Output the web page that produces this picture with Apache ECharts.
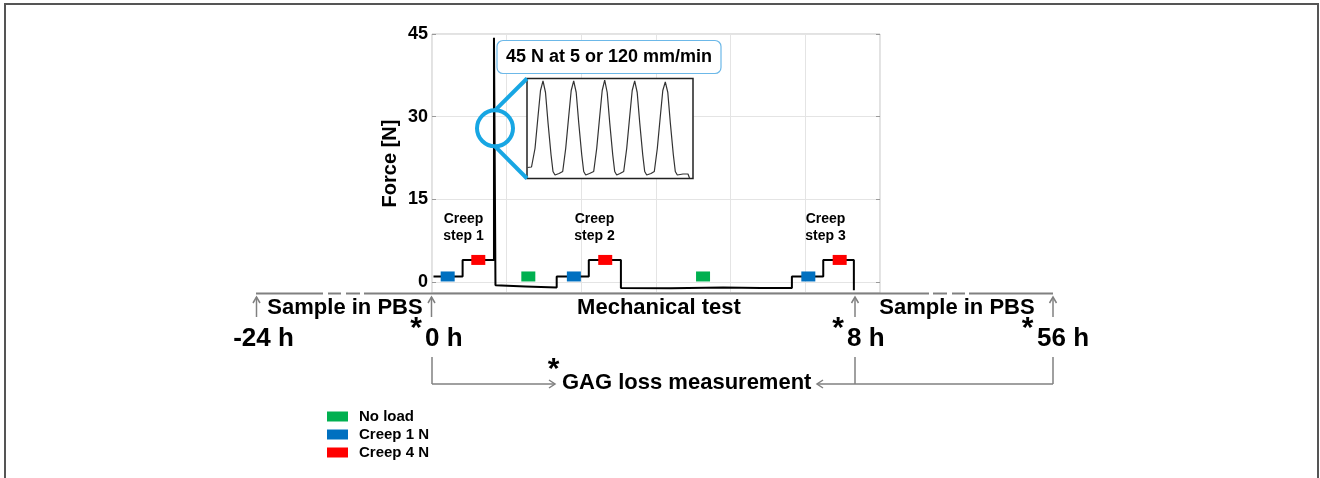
<!DOCTYPE html>
<html><head>
<meta charset="UTF-8">
<title>Force protocol</title>
<script src="https://cdn.jsdelivr.net/npm/echarts@6.0.0/dist/echarts.min.js"></script>
<style>
html,body{margin:0;padding:0;background:#fff;}
#main{width:1320px;height:478px;}
</style>
</head>
<body>
<div id="main"></div>
<script>
// force trace (x in grid units, 6 units across the plot)
var traceX = [0.02, 0.41, 0.41, 0.83, 0.83, 0.85, 1.25, 1.67, 1.67, 2.10, 2.10, 2.53, 2.53, 3.2, 3.9, 4.4, 4.82, 4.82, 5.24, 5.24, 5.65, 5.65];
var traceY = [1, 1, 4, 4, 44.3, -0.6, -0.8, -1.0, 1, 1, 4, 4, -1.1, -1.15, -1.0, -1.1, -1.1, 1, 1, 4, 4, -1.5];
// load step markers
var noLoadX = [1.29, 3.63];
var noLoadY = [1, 1];
var creep1X = [0.21, 1.90, 5.04];
var creep1Y = [1, 1, 1];
var creep4X = [0.62, 2.32, 5.46];
var creep4Y = [4, 4, 4];
var yTicks = [0, 15, 30, 45];
// zoomed cyclic loading (inset)
var insetX = [0.5, 4.5, 8, 11, 13.5, 16, 18.5, 21, 24, 26, 28, 32,
  35.7, 38.7, 41.7, 44.2, 46.7, 49.2, 51.7, 54.7, 56.7, 58.7, 62.5,
  66.7, 69.7, 72.7, 75.2, 77.7, 80.2, 82.7, 85.7, 87.7, 89.7, 93,
  96.7, 99.7, 102.7, 105.2, 107.7, 110.2, 112.7, 115.7, 117.7, 119.7, 124,
  127.3, 130.3, 133.3, 135.8, 138.3, 140.8, 143.3, 146.3, 148.3, 150.3, 156, 161, 162.5];
var insetY = [11, 11.5, 30, 62, 88, 97.7, 86, 56, 24, 7, 3.5, 5,
  7, 30, 62, 88, 97.7, 86, 56, 24, 7, 3.5, 5,
  7, 30, 62, 88, 98.3, 86, 56, 24, 7, 3.5, 5,
  7, 30, 62, 88, 97.7, 86, 56, 24, 7, 3.5, 5,
  7, 30, 62, 88, 96.7, 86, 56, 24, 7, 3.5, 4.5, 4.5, 0.5];

function zip(a, b) {
  var out = [];
  for (var i = 0; i < a.length; i++) out.push([a[i], b[i]]);
  return out;
}

var FONT = '"Liberation Sans", Arial, sans-serif';
var GREY = '#808080';
var CYAN = '#17a6e3';

function txt(x, y, s, size, align) {
  return {type: 'text', x: x, y: y, z: 20,
    style: {text: s, font: 'bold ' + size + 'px ' + FONT, fill: '#000',
      align: align || 'center', verticalAlign: 'middle'}};
}
function seg(x1, y1, x2, y2, color, w) {
  return {type: 'line', z: 15, shape: {x1: x1, y1: y1, x2: x2, y2: y2},
    style: {stroke: color || GREY, lineWidth: w || 2}};
}
function head(points) {
  return {type: 'polyline', z: 15, shape: {points: points},
    style: {stroke: GREY, lineWidth: 1.5, fill: null}};
}
function upArrow(x) {
  return [seg(x, 317, x, 297, GREY, 1.5), head([[x - 3.5, 303], [x, 297], [x + 3.5, 303]])];
}

var graphics = [
  // outer frame
  {type: 'rect', z: 1, shape: {x: 5, y: 4, width: 1313, height: 520},
    style: {fill: null, stroke: '#555', lineWidth: 2}},
  // timeline
  seg(256, 293.5, 323, 293.5), seg(328, 293.5, 341, 293.5), seg(346, 293.5, 360, 293.5),
  seg(364, 293.5, 929, 293.5), seg(933, 293.5, 947, 293.5), seg(952, 293.5, 965, 293.5),
  seg(969, 293.5, 1053, 293.5),
  // GAG bracket
  seg(432, 357, 432, 384, GREY, 1.5), seg(432, 384, 555, 384, GREY, 1.5),
  head([[549, 380], [555, 384], [549, 388]]),
  seg(855, 357, 855, 384, GREY, 1.5), seg(1053, 357, 1053, 384, GREY, 1.5),
  seg(817, 384, 1053, 384, GREY, 1.5),
  head([[823, 380], [817, 384], [823, 388]]),
  // labels along timeline
  txt(345, 308, 'Sample in PBS', 22),
  txt(659, 308, 'Mechanical test', 22),
  txt(957, 308, 'Sample in PBS', 22),
  txt(263.5, 339, '-24 h', 26),
  txt(416, 329, '*', 30), txt(425, 339, '0 h', 26, 'left'),
  txt(838, 329, '*', 30), txt(847, 339, '8 h', 26, 'left'),
  txt(1027.5, 329, '*', 30), txt(1037, 339, '56 h', 26, 'left'),
  txt(553.5, 370, '*', 30), txt(562, 382.5, 'GAG loss measurement', 22, 'left'),
  // creep step captions
  {type: 'text', x: 463.5, y: 228, z: 20, style: {text: 'Creep\nstep 1', font: 'bold 14px ' + FONT, lineHeight: 17, fill: '#000', align: 'center', verticalAlign: 'middle'}},
  {type: 'text', x: 594.5, y: 228, z: 20, style: {text: 'Creep\nstep 2', font: 'bold 14px ' + FONT, lineHeight: 17, fill: '#000', align: 'center', verticalAlign: 'middle'}},
  {type: 'text', x: 825.5, y: 228, z: 20, style: {text: 'Creep\nstep 3', font: 'bold 14px ' + FONT, lineHeight: 17, fill: '#000', align: 'center', verticalAlign: 'middle'}},
  // callout
  {type: 'rect', z: 12, shape: {x: 497, y: 40.5, width: 224, height: 33, r: 6},
    style: {fill: '#fff', stroke: '#6cb8e8', lineWidth: 1.2}},
  txt(609, 57, '45 N at 5 or 120 mm/min', 18),
  // magnifier
  {type: 'circle', z: 14, shape: {cx: 495, cy: 128.3, r: 18}, style: {fill: null, stroke: CYAN, lineWidth: 4}},
  seg(495, 110.3, 527, 78.5, CYAN, 4), seg(495, 146.3, 527, 178.5, CYAN, 4)
];
graphics = graphics.concat(upArrow(256.5), upArrow(431.5), upArrow(855), upArrow(1053));

var chart = echarts.init(document.getElementById('main'));
var option = {
  animation: false,
  backgroundColor: '#fff',
  textStyle: {fontFamily: FONT},
  grid: [
    {left: 432, top: 34, width: 448, height: 259, show: true, borderColor: '#c4c4c4', borderWidth: 1},
    {left: 527, top: 78.5, width: 166, height: 100, show: true, z: 3, backgroundColor: '#fff', borderColor: '#222', borderWidth: 1.5}
  ],
  legend: {
    data: ['No load', 'Creep 1 N', 'Creep 4 N'],
    orient: 'vertical', left: 322, top: 404, icon: 'rect',
    itemWidth: 21, itemHeight: 10, itemGap: 3,
    textStyle: {fontWeight: 'bold', fontSize: 15, color: '#000', fontFamily: FONT, lineHeight: 15, padding: [0, 0, 0, 6]}
  },
  xAxis: [
    {gridIndex: 0, type: 'value', min: 0, max: 6, interval: 1,
      axisLabel: {show: false}, axisTick: {show: false}, axisLine: {show: false},
      splitLine: {show: true, lineStyle: {color: '#e4e4e4', width: 1}}},
    {gridIndex: 1, type: 'value', min: 0, max: 166, show: false}
  ],
  yAxis: [
    {gridIndex: 0, type: 'value', min: -2, max: 45,
      name: 'Force [N]', nameLocation: 'middle', nameGap: 32,
      nameTextStyle: {fontWeight: 'bold', fontSize: 20, color: '#000', fontFamily: FONT},
      axisLine: {show: false},
      axisTick: {show: true, inside: true, length: 4, customValues: yTicks, lineStyle: {color: '#999'}},
      axisLabel: {customValues: yTicks, margin: 4, fontWeight: 'bold', fontSize: 18, color: '#000', fontFamily: FONT},
      splitLine: {show: true, lineStyle: {color: '#e4e4e4', width: 1}}},
    {gridIndex: 0, type: 'value', min: -2, max: 45, position: 'right',
      axisLine: {show: false}, axisLabel: {show: false}, splitLine: {show: false},
      axisTick: {show: true, inside: true, length: 4, customValues: yTicks, lineStyle: {color: '#999'}}},
    {gridIndex: 1, type: 'value', min: 0, max: 100, show: false}
  ],
  series: [
    {name: 'Force', type: 'line', xAxisIndex: 0, yAxisIndex: 0, data: zip(traceX, traceY),
      showSymbol: false, lineStyle: {color: '#000', width: 2}, z: 4},
    {name: 'No load', type: 'scatter', data: zip(noLoadX, noLoadY), symbol: 'rect', symbolSize: [14, 10],
      itemStyle: {color: '#00b050', opacity: 1}, z: 6},
    {name: 'Creep 1 N', type: 'scatter', data: zip(creep1X, creep1Y), symbol: 'rect', symbolSize: [14, 10],
      itemStyle: {color: '#0070c0', opacity: 1}, z: 6},
    {name: 'Creep 4 N', type: 'scatter', data: zip(creep4X, creep4Y), symbol: 'rect', symbolSize: [14, 10],
      itemStyle: {color: '#ff0000', opacity: 1}, z: 6},
    {name: 'Inset', type: 'line', xAxisIndex: 1, yAxisIndex: 2, data: zip(insetX, insetY),
      showSymbol: false, lineStyle: {color: '#333', width: 1.2}, z: 7}
  ],
  graphic: graphics
};
chart.setOption(option);
</script>
</body></html>
